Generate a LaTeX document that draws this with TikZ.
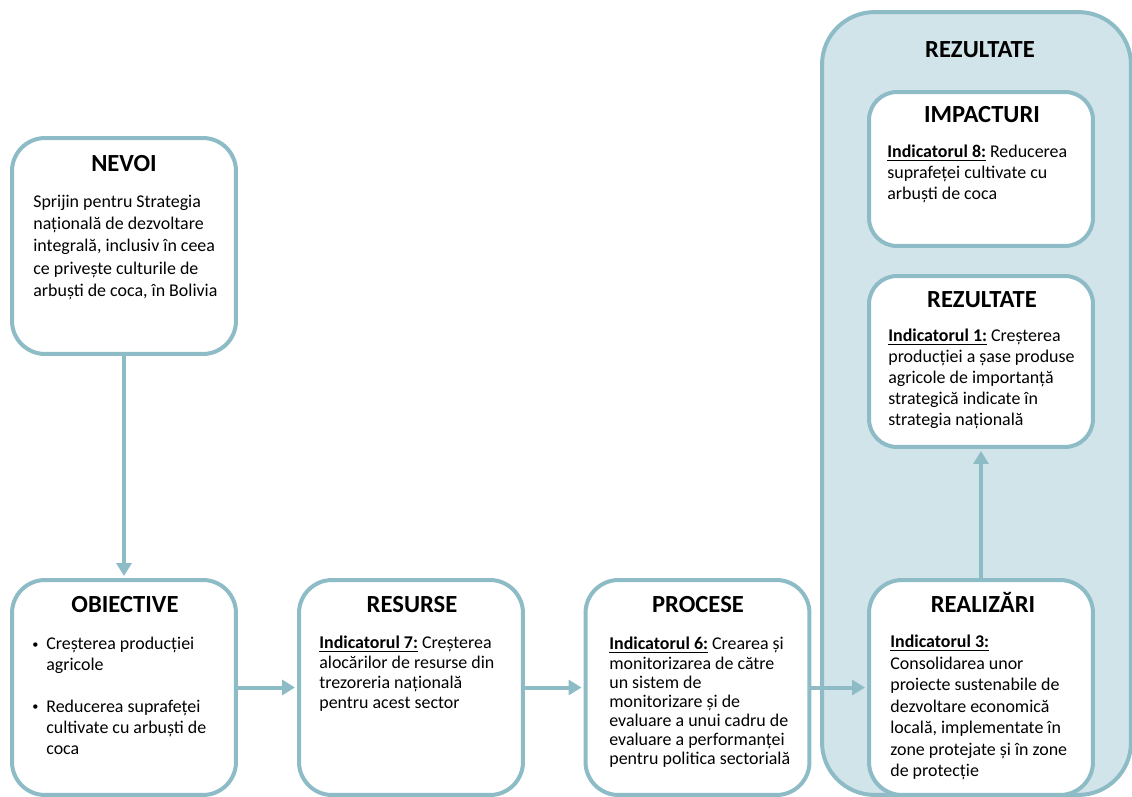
\documentclass[tikz,border=0pt]{standalone}
\usepackage{fontspec}
\setmainfont{Carlito}
\usetikzlibrary{arrows.meta,positioning}

\definecolor{contur}{HTML}{8DBCC7}
\definecolor{fundal}{HTML}{D1E4E9}

\newcommand{\indic}[1]{\underline{\textbf{Indicatorul #1:}}}
\newcommand{\punct}{\makebox[0.28cm][l]{\raisebox{0.9pt}{\fontsize{7}{7}\selectfont\textbullet}}}

\tikzset{
  caseta/.style={draw=contur, line width=0.08cm, fill=white, rounded corners=0.66cm,
    minimum width=4.48cm, minimum height=4.3cm, inner sep=0pt},
  titlu/.style={font=\fontsize{14}{17}\selectfont\bfseries, inner sep=0pt, anchor=base},
  corp/.style={font=\fontsize{10.2}{#1}\selectfont, align=left, inner sep=0pt, anchor=north west},
  sageata/.style={draw=contur, line width=0.08cm, shorten >=0.04cm,
    -{Triangle[width=0.3cm,length=0.26cm]}}
}

\begin{document}
\begin{tikzpicture}[x=0.02cm, y=-0.02cm]
  \useasboundingbox (0,0) rectangle (1132,797);
  \clip (0,0) rectangle (1132,797);

  % Rezultate (fundal)
  \node[caseta, fill=fundal, rounded corners=1.05cm, minimum width=6.18cm, minimum height=15.66cm]
    (rezultate) at (976.5,403.5) {};
  \node[titlu] (rezultateT) at (980,57.3) {REZULTATE};

  % Casete
  \node[caseta, minimum height=4.32cm] (nevoi) at (124,246) {};
  \node[caseta] (obiective) at (124,687.5) {};
  \node[caseta] (resurse) at (411,687.5) {};
  \node[caseta] (procese) at (697.5,687.5) {};
  \node[caseta] (realizari) at (981,687.5) {};
  \node[caseta, rounded corners=0.56cm, minimum height=3.08cm] (impacturi) at (981,169) {};
  \node[caseta, rounded corners=0.56cm, minimum height=3.42cm] (efecte) at (981,361.5) {};

  % Sageti
  \draw[sageata] (nevoi.south) -- (obiective.north);
  \draw[sageata] (obiective.east) -- (resurse.west);
  \draw[sageata] (resurse.east) -- (procese.west);
  \draw[sageata] (procese.east) -- (realizari.west);
  \draw[sageata] (realizari.north) -- (efecte.south);

  % Titluri
  \node[titlu] (nevoiT) at (124,171.7) {NEVOI};
  \node[titlu] (obiectiveT) at (125,612.7) {OBIECTIVE};
  \node[titlu] (resurseT) at (412,612.7) {RESURSE};
  \node[titlu] (proceseT) at (698,612.7) {PROCESE};
  \node[titlu] (realizariT) at (983,612.7) {REALIZĂRI};
  \node[titlu] (impacturiT) at (982,122.7) {IMPACTURI};
  \node[titlu] (efecteT) at (982,307.7) {REZULTATE};

  % Texte
  \node[corp=12.6pt] (nevoiC) at (33,195) {Sprijin pentru Strategia\\națională de dezvoltare\\integrală, inclusiv în ceea\\ce privește culturile de\\arbuști de coca, în Bolivia};
  \node[corp=11.9pt] (obiectiveC) at (32,637) {\punct Creșterea producției\\\hspace*{0.28cm}agricole\\[11.9pt]\punct Reducerea suprafeței\\\hspace*{0.28cm}cultivate cu arbuști de\\\hspace*{0.28cm}coca};
  \node[corp=11.3pt] (resurseC) at (319,636) {\indic{7} Creșterea\\alocărilor de resurse din\\trezoreria națională\\pentru acest sector};
  \node[corp=10.9pt] (proceseC) at (609,637) {\indic{6} Crearea și\\monitorizarea de către\\un sistem de\\monitorizare și de\\evaluare a unui cadru de\\evaluare a performanței\\pentru politica sectorială};
  \node[corp=12.2pt] (realizariC) at (890,635) {\indic{3}\\Consolidarea unor\\proiecte sustenabile de\\dezvoltare economică\\locală, implementate în\\zone protejate și în zone\\de protecție};
  \node[corp=11.8pt] (impacturiC) at (887,145) {\indic{8} Reducerea\\suprafeței cultivate cu\\arbuști de coca};
  \node[corp=11.9pt] (efecteC) at (888,329) {\indic{1} Creșterea\\producției a șase produse\\agricole de importanță\\strategică indicate în\\strategia națională};
\end{tikzpicture}
\end{document}
